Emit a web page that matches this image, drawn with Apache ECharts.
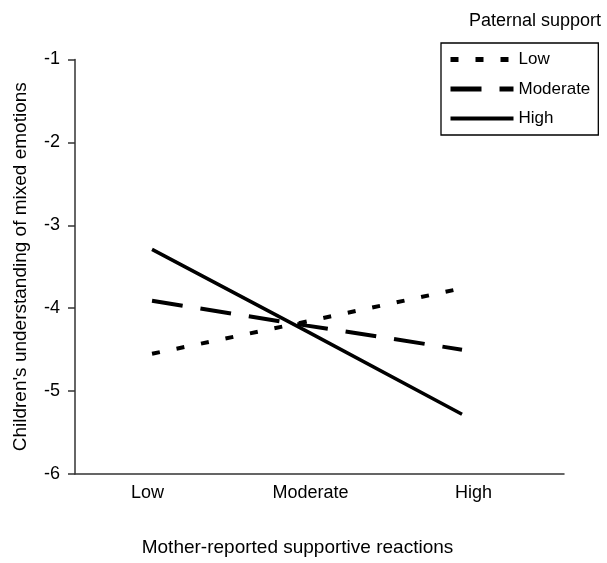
<!DOCTYPE html>
<html>
<head>
<meta charset="utf-8">
<script src="https://cdn.jsdelivr.net/npm/echarts@6/dist/echarts.min.js"></script>
<style>
  html, body { margin: 0; padding: 0; background: #fff; }
  #chart { width: 607px; height: 563px; }
</style>
</head>
<body>
<div id="chart"></div>
<script>
// categories on the x axis (mother-reported supportive reactions)
var categories = ['Low', 'Moderate', 'High'];
// y-axis tick labels
var yTicks = [-6, -5, -4, -3, -2, -1];
// one line per paternal support level
var lowSupport = [-4.55, -4.16, -3.76];
var moderateSupport = [-3.91, -4.21, -4.50];
var highSupport = [-3.29, -4.28, -5.28];

var font = 'Liberation Sans, Arial, sans-serif';

var chart = echarts.init(document.getElementById('chart'));

function toPoints(arr) {
  // x position = category index on the hidden value axis
  return arr.map(function (v, i) { return [i, v]; });
}

var dotted = [8, 17];
var dashed = [31, 18];

var option = {
  animation: false,
  backgroundColor: '#fff',
  textStyle: { fontFamily: font, color: '#000' },
  title: {
    text: 'Paternal support',
    right: 1,
    top: 7,
    textStyle: { fontFamily: font, fontSize: 18, fontWeight: 'normal', color: '#000' }
  },
  legend: {
    orient: 'vertical',
    left: 441,
    top: 43,
    padding: [8, 8, 8, 7],
    itemWidth: 63,
    itemHeight: 14,
    itemGap: 12.5,
    borderColor: '#000',
    borderWidth: 1.3,
    itemStyle: { opacity: 0 },
    textStyle: { fontFamily: font, fontSize: 17, color: '#000' },
    data: [
      { name: 'Low', lineStyle: { width: 5, type: dotted, color: '#000' } },
      { name: 'Moderate', lineStyle: { width: 5, type: dashed, color: '#000' } },
      { name: 'High', lineStyle: { width: 4, type: 'solid', color: '#000' } }
    ]
  },
  grid: {
    left: 75,
    right: 43,
    top: 59.5,
    bottom: 89
  },
  xAxis: [{
    type: 'category',
    data: categories,
    boundaryGap: true,
    name: 'Mother-reported supportive reactions',
    nameLocation: 'middle',
    nameGap: 64,
    nameTextStyle: { fontFamily: font, fontSize: 19, color: '#000', padding: [0, 44, 0, 0] },
    axisLine: { lineStyle: { color: '#333', width: 1.5 } },
    axisTick: { show: false },
    axisLabel: { fontFamily: font, fontSize: 18, color: '#000', margin: 10, padding: [0, 18, 0, 0] }
  }, {
    // hidden axis that places the line ends
    type: 'value',
    min: -0.497,
    max: 2.658,
    show: false
  }],
  yAxis: {
    type: 'value',
    min: -6,
    max: -1,
    interval: 1,
    name: "Children's understanding of mixed emotions",
    nameLocation: 'middle',
    nameGap: 45,
    nameTextStyle: { fontFamily: font, fontSize: 19, color: '#000' },
    axisLine: { show: true, onZero: false, lineStyle: { color: '#333', width: 1.5 } },
    axisTick: { show: true, length: 7, lineStyle: { color: '#333', width: 1.5 } },
    axisLabel: {
      fontFamily: font, fontSize: 18, color: '#000', margin: 15,
      formatter: function (v) { return yTicks.indexOf(v) >= 0 ? String(v) : ''; }
    },
    splitLine: { show: false }
  },
  series: [{
    name: 'Low',
    type: 'line',
    xAxisIndex: 1,
    data: toPoints(lowSupport),
    symbol: 'none',
    color: '#000',
    lineStyle: { color: '#000', width: 4, type: dotted, cap: 'butt' }
  }, {
    name: 'Moderate',
    type: 'line',
    xAxisIndex: 1,
    data: toPoints(moderateSupport),
    symbol: 'none',
    color: '#000',
    lineStyle: { color: '#000', width: 4, type: dashed, cap: 'butt' }
  }, {
    name: 'High',
    type: 'line',
    xAxisIndex: 1,
    data: toPoints(highSupport),
    symbol: 'none',
    color: '#000',
    lineStyle: { color: '#000', width: 3.5, type: 'solid' }
  }]
};

chart.setOption(option);
</script>
</body>
</html>
